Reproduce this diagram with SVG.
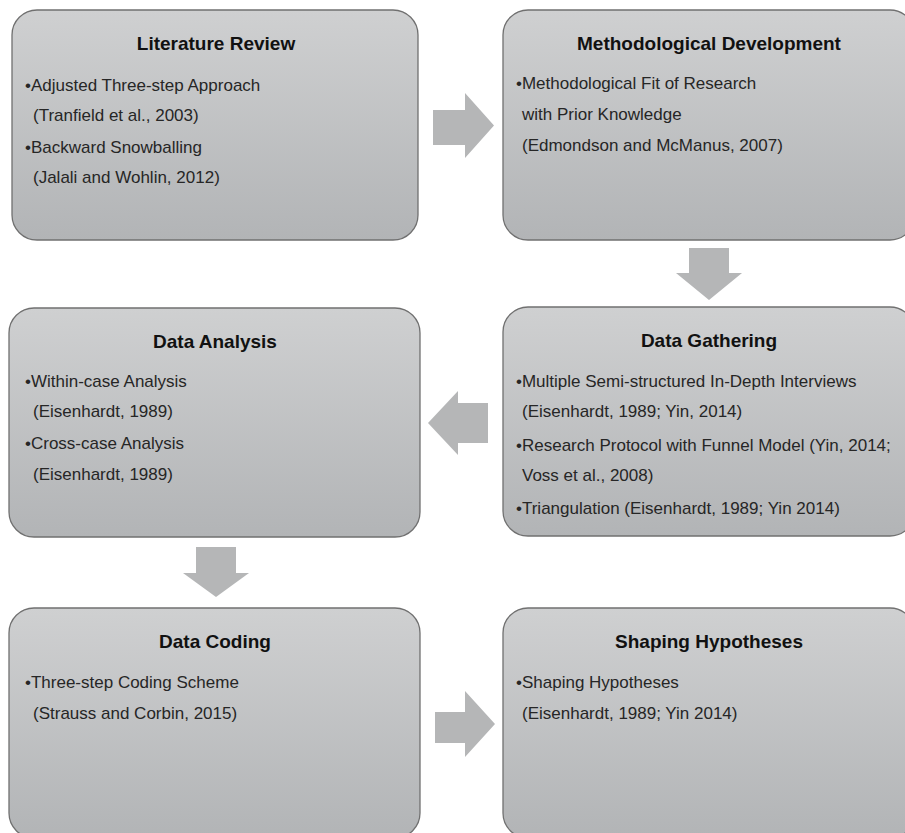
<svg xmlns="http://www.w3.org/2000/svg" width="905" height="833" viewBox="0 0 905 833">
<defs>
<linearGradient id="g" x1="0" y1="0" x2="0" y2="1">
<stop offset="0" stop-color="#cfd0d1"/>
<stop offset="1" stop-color="#b2b4b6"/>
</linearGradient>
</defs>
<style>
.box{fill:url(#g);stroke:#707070;stroke-width:1.3}
.t{font-family:"Liberation Sans",Arial,sans-serif;font-weight:bold;font-size:19px;fill:#111;text-anchor:middle}
.b{font-family:"Liberation Sans",Arial,sans-serif;font-size:17px;fill:#262626}
.arr{fill:#b5b6b7}
</style>
<rect width="905" height="833" fill="#fff"/>
<g id="connectors">
<polygon class="arr" points="433,110 465,110 465,93 494,125.5 465,158 465,145 433,145"/>
<polygon class="arr" points="689,248 729,248 729,273 742,273 709,300 676,273 689,273"/>
<polygon class="arr" points="488,403 458,403 458,391 428,423 458,455 458,443 488,443"/>
<polygon class="arr" points="196,547 236,547 236,573 249,573 216,597 183,573 196,573"/>
<polygon class="arr" points="435,712 465,712 465,691 495,724 465,757 465,743 435,743"/>
</g>
<g id="literature-review">
<rect class="box" x="12" y="10" width="406" height="230" rx="25"/>
<text class="t" x="216" y="50">Literature Review</text>
<text class="b" x="25" y="91">•Adjusted Three-step Approach</text>
<text class="b" x="33" y="121">(Tranfield et al., 2003)</text>
<text class="b" x="25" y="153">•Backward Snowballing</text>
<text class="b" x="33" y="183">(Jalali and Wohlin, 2012)</text>
</g>
<g id="methodological-development">
<rect class="box" x="503" y="10" width="412" height="230" rx="25"/>
<text class="t" x="709" y="50">Methodological Development</text>
<text class="b" x="516" y="89">•Methodological Fit of Research</text>
<text class="b" x="522" y="120">with Prior Knowledge</text>
<text class="b" x="522" y="151">(Edmondson and McManus, 2007)</text>
</g>
<g id="data-analysis">
<rect class="box" x="9" y="308" width="411" height="229" rx="25"/>
<text class="t" x="215" y="348">Data Analysis</text>
<text class="b" x="25" y="387">•Within-case Analysis</text>
<text class="b" x="33" y="417">(Eisenhardt, 1989)</text>
<text class="b" x="25" y="449">•Cross-case Analysis</text>
<text class="b" x="33" y="480">(Eisenhardt, 1989)</text>
</g>
<g id="data-gathering">
<rect class="box" x="503" y="307" width="412" height="229" rx="25"/>
<text class="t" x="709" y="347">Data Gathering</text>
<text class="b" x="516" y="387">•Multiple Semi-structured In-Depth Interviews</text>
<text class="b" x="522" y="417">(Eisenhardt, 1989; Yin, 2014)</text>
<text class="b" x="516" y="451">•Research Protocol with Funnel Model (Yin, 2014;</text>
<text class="b" x="522" y="481">Voss et al., 2008)</text>
<text class="b" x="516" y="514">•Triangulation (Eisenhardt, 1989; Yin 2014)</text>
</g>
<g id="data-coding">
<rect class="box" x="9" y="608" width="411" height="230" rx="25"/>
<text class="t" x="215" y="648">Data Coding</text>
<text class="b" x="25" y="688">•Three-step Coding Scheme</text>
<text class="b" x="33" y="719">(Strauss and Corbin, 2015)</text>
</g>
<g id="shaping-hypotheses">
<rect class="box" x="503" y="608" width="412" height="230" rx="25"/>
<text class="t" x="709" y="648">Shaping Hypotheses</text>
<text class="b" x="516" y="688">•Shaping Hypotheses</text>
<text class="b" x="522" y="719">(Eisenhardt, 1989; Yin 2014)</text>
</g>
</svg>
